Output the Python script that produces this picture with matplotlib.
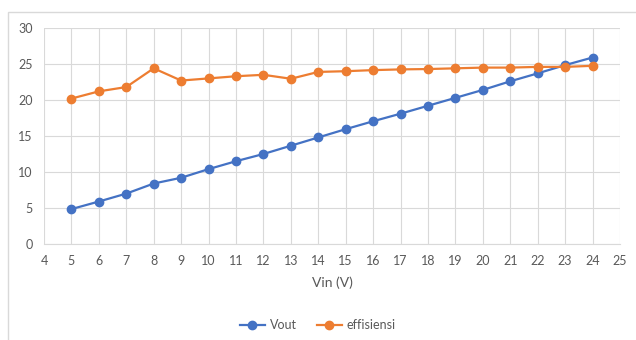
"""Vout and efficiency versus input voltage."""

import matplotlib
matplotlib.use("Agg")
import matplotlib.pyplot as plt
from matplotlib.patches import Rectangle

matplotlib.rcParams["font.family"] = "Lato"

vin = [5, 6, 7, 8, 9, 10, 11, 12, 13, 14, 15, 16, 17, 18, 19, 20, 21, 22, 23, 24]
vout = [4.85, 5.9, 7.0, 8.4, 9.2, 10.4, 11.5, 12.5, 13.65, 14.8,
        15.95, 17.05, 18.1, 19.2, 20.3, 21.4, 22.6, 23.7, 24.85, 25.9]
effisiensi = [20.2, 21.2, 21.8, 24.4, 22.7, 23.0, 23.3, 23.5, 22.95, 23.9,
              24.0, 24.15, 24.25, 24.3, 24.4, 24.5, 24.5, 24.6, 24.6, 24.75]

x_ticks = list(range(4, 26))
y_ticks = [0, 5, 10, 15, 20, 25, 30]

BLUE = "#4472C4"
ORANGE = "#ED7D31"
TEXT = "#595959"
GRID = "#D9D9D9"

fig = plt.figure(figsize=(6.36, 3.4), dpi=100)
fig.patches.append(Rectangle((8 / 636, -0.05), 1.0, 1 - 12 / 340 + 0.05,
                             transform=fig.transFigure, fill=False,
                             edgecolor="#D9D9D9", linewidth=1.0))
ax = fig.add_axes([44 / 636, 1 - 244 / 340, 576 / 636, 216 / 340])

ax.plot(vin, vout, color=BLUE, lw=1.6, marker="o", ms=6, label="Vout", zorder=3)
ax.plot(vin, effisiensi, color=ORANGE, lw=1.6, marker="o", ms=6,
        label="effisiensi", zorder=3)

ax.set_xlim(4, 25)
ax.set_ylim(0, 30)
ax.set_xticks(x_ticks)
ax.set_yticks(y_ticks)
ax.grid(True, color=GRID, lw=0.8)
ax.set_axisbelow(True)
ax.tick_params(length=0, labelsize=9, labelcolor=TEXT, pad=8)
for name, sp in ax.spines.items():
    if name == "bottom":
        sp.set_color(GRID)
    else:
        sp.set_visible(False)

ax.set_xlabel("Vin (V)", fontsize=10, color=TEXT, labelpad=7)

fig.legend(loc="center", bbox_to_anchor=(0.5, 1 - 325 / 340), ncol=2,
           frameon=False, fontsize=9, labelcolor=TEXT, handlelength=2.0,
           columnspacing=1.6, handletextpad=0.4)

fig.savefig("out.png", dpi=100)
